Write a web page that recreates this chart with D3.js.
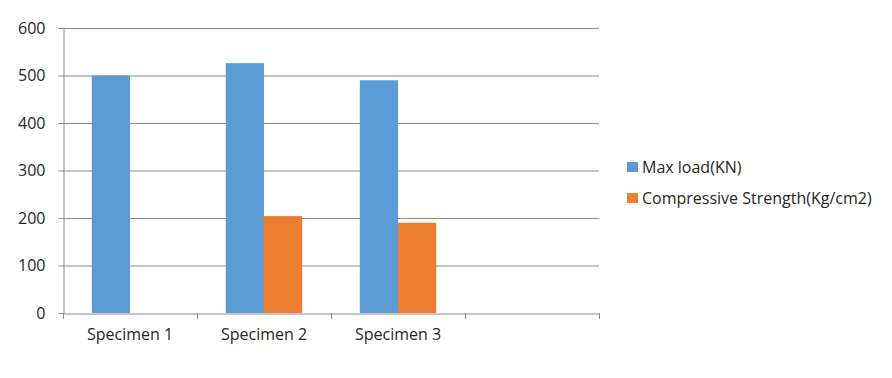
<!DOCTYPE html>
<html>
<head>
<meta charset="utf-8">
<script src="https://cdn.jsdelivr.net/npm/d3@7"></script>
<style>
  body { margin: 0; background: #fff; }
  text { font-family: "Open Sans", "Noto Sans", sans-serif; fill: #262626; }
</style>
</head>
<body>
<script>
// chart data
const categories = ["Specimen 1", "Specimen 2", "Specimen 3", ""]
const seriesNames = ["Max load(KN)", "Compressive Strength(Kg/cm2)"]
const maxLoad = [500, 526, 490, null]
const compStrength = [null, 204, 190, null]
const yTicks = [0, 100, 200, 300, 400, 500, 600]

const width = 892
const height = 378
const margin = {left: 63, right: 293, top: 28, bottom: 65}
const colors = ["#5B9BD5", "#ED7D31"]

const svg = d3.select("body").append("svg")
  .attr("width", width)
  .attr("height", height)

const x = d3.scaleBand()
  .domain(d3.range(categories.length))
  .range([margin.left, width - margin.right])

const y = d3.scaleLinear()
  .domain([0, 600])
  .range([height - margin.bottom, margin.top])

// inner scale for the two series inside a category
const barW = x.bandwidth() * 0.285
const xs = d3.scaleBand()
  .domain([0, 1])
  .range([x.bandwidth() / 2 - barW, x.bandwidth() / 2 + barW])

// gridlines
svg.append("g")
  .selectAll("line")
  .data(yTicks.slice(1))
  .enter()
  .append("line")
  .attr("x1", margin.left)
  .attr("x2", width - margin.right)
  .attr("y1", d => y(d) + 0.5)
  .attr("y2", d => y(d) + 0.5)
  .attr("stroke", "#8c8c8c")
  .attr("stroke-width", 1)

// bars
const rows = categories.map((c, i) => [maxLoad[i], compStrength[i]])
const groups = svg.append("g")
  .selectAll("g")
  .data(rows)
  .enter()
  .append("g")
  .attr("transform", (d, i) => `translate(${x(i)},0)`)

groups.selectAll("rect")
  .data(d => d.map((v, k) => ({v, k})).filter(o => o.v != null))
  .enter()
  .append("rect")
  .attr("x", o => xs(o.k))
  .attr("width", xs.bandwidth())
  .attr("y", o => y(o.v))
  .attr("height", o => y(0) - y(o.v))
  .attr("fill", o => colors[o.k])

// y axis
const yAxis = svg.append("g")
  .attr("transform", `translate(${margin.left + 0.5},0)`)
  .call(d3.axisLeft(y).tickValues(yTicks).tickSize(5).tickPadding(13))
yAxis.select(".domain").attr("stroke", "#8c8c8c")
yAxis.selectAll(".tick line").attr("stroke", "#8c8c8c")
yAxis.selectAll("text").style("font-size", "16px").attr("fill", "#262626")

// x axis
const xAxis = svg.append("g")
  .attr("transform", `translate(0,${y(0) + 0.5})`)
  .call(d3.axisBottom(x).tickFormat(i => categories[i]).tickSize(0).tickPadding(15))
xAxis.select(".domain").attr("stroke", "#8c8c8c")
xAxis.selectAll("text").style("font-size", "16px").attr("fill", "#262626")

// category divider ticks
svg.append("g")
  .selectAll("line")
  .data(d3.range(categories.length + 1))
  .enter()
  .append("line")
  .attr("x1", i => (i < categories.length ? x(i) : x.range()[1]) + 0.5)
  .attr("x2", i => (i < categories.length ? x(i) : x.range()[1]) + 0.5)
  .attr("y1", y(0))
  .attr("y2", y(0) + 6)
  .attr("stroke", "#8c8c8c")

// legend
const legend = svg.append("g")
  .selectAll("g")
  .data(seriesNames)
  .enter()
  .append("g")
  .attr("transform", (d, i) => `translate(627,${167 + i * 31})`)

legend.append("rect")
  .attr("x", 0)
  .attr("y", -5)
  .attr("width", 11)
  .attr("height", 10)
  .attr("fill", (d, i) => colors[i])

legend.append("text")
  .attr("x", 15)
  .attr("dy", "0.35em")
  .style("font-size", "16px")
  .text(d => d)
</script>
</body>
</html>
